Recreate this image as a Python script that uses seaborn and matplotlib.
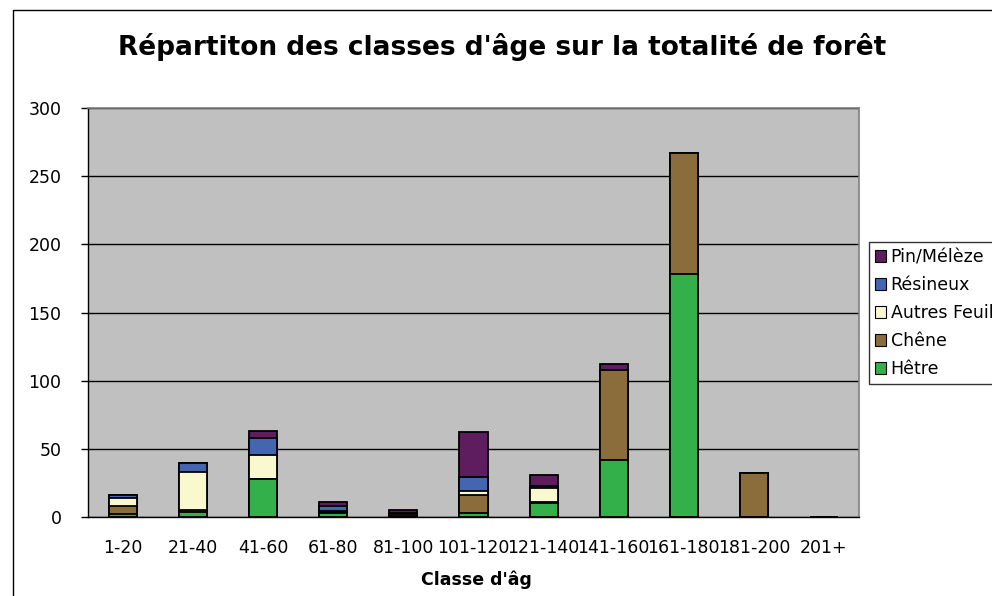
import matplotlib
matplotlib.use("Agg")
import matplotlib.pyplot as plt
import seaborn as sns
import numpy as np
from matplotlib.patches import Patch, Rectangle
from matplotlib.transforms import Bbox

categories = ['1-20', '21-40', '41-60', '61-80', '81-100', '101-120',
              '121-140', '141-160', '161-180', '181-200', '201+']
hetre = [2.5, 3.5, 28, 3, 1, 3, 10.5, 42, 178, 0, 0]
chene = [5.5, 1.5, 0, 1, 1, 13.5, 0.5, 66, 89, 32, 0]
autres = [6, 28, 17.5, 0.5, 0.5, 2.5, 10, 0, 0, 0, 0]
resineux = [2, 6.5, 12.5, 3.5, 0.5, 10, 1.5, 0, 0, 0, 0]
pin = [0.5, 0, 5, 3, 2, 33, 8, 4, 0, 0, 0]

series_names = ['Hêtre', 'Chêne', 'Autres Feuillus', 'Résineux', 'Pin/Mélèze']
series_values = [hetre, chene, autres, resineux, pin]
colors = ['#33B04A', '#8B6D3B', '#FAF8CF', '#4466B0', '#5E1D5E']

sns.set_style("white")
plt.rcParams['font.family'] = ['DejaVu Sans']
plt.rcParams['text.color'] = 'black'
plt.rcParams['xtick.color'] = 'black'
plt.rcParams['ytick.color'] = 'black'

fig = plt.figure(figsize=(9.92, 5.96), dpi=100)
ax = fig.add_axes([88 / 992, 1 - 517 / 596, (859 - 88) / 992, (517 - 108) / 596])
ax.set_facecolor('#C0C0C0')

# stacked bars: draw cumulative totals from the top layer down
cum = np.cumsum(np.array(series_values), axis=0)
for i in range(len(series_names) - 1, -1, -1):
    sns.barplot(x=categories, y=cum[i], order=categories, color=colors[i],
                width=0.4, edgecolor='black', linewidth=1.3, errorbar=None,
                saturation=1, ax=ax)

ax.set_xlim(-0.5, len(categories) - 0.5)
ax.set_ylim(0, 300)
ax.set_yticks(range(0, 301, 50))
ax.yaxis.grid(True, color='black', linewidth=1)
ax.set_axisbelow(True)

ax.set_xticks(range(len(categories)))
ax.set_xticklabels(categories)
ax.set_xticks(np.arange(-0.5, len(categories), 1), minor=True)
ax.tick_params(axis='x', which='major', length=0, pad=16, labelsize=12.5)
ax.tick_params(axis='x', which='minor', length=6, width=1, color='black', direction='out')
ax.tick_params(axis='y', length=5, width=1, color='black', direction='out', pad=14, labelsize=12.5,
               left=True)
ax.set_xlabel('')
ax.set_ylabel('')

for side in ['left', 'bottom']:
    ax.spines[side].set_color('black')
    ax.spines[side].set_linewidth(1)
for side in ['top', 'right']:
    ax.spines[side].set_color('#808080')
    ax.spines[side].set_linewidth(1.2)

fig.text(502 / 992, 1 - 47 / 596, "Répartiton des classes d'âge sur la totalité de forêt",
         ha='center', va='center', fontsize=19, fontweight='bold')

xl = fig.text(421 / 992, 1 - 580 / 596, "Classe d'âge", ha='left', va='center',
              fontsize=12.5, fontweight='bold')
xl.set_clip_box(Bbox.from_extents(0, 0, 532, 596))
xl.set_clip_on(True)

handles = [Patch(facecolor=colors[i], edgecolor='black', linewidth=0.8, label=series_names[i])
           for i in range(len(series_names) - 1, -1, -1)]
leg = fig.legend(handles=handles, loc='upper left', bbox_to_anchor=(869 / 992, 1 - 242 / 596),
                 fontsize=12.5, frameon=True, fancybox=False, handlelength=0.65, handleheight=0.65,
                 handletextpad=0.25, labelspacing=0.58, borderpad=0.35, borderaxespad=0)
leg.get_frame().set_edgecolor('black')
leg.get_frame().set_linewidth(1)

fig.patches.append(Rectangle((13 / 992, -0.1), 2, 0.1 + (1 - 10 / 596), transform=fig.transFigure,
                             fill=False, edgecolor='black', linewidth=1))

fig.savefig('out.png', dpi=100)
